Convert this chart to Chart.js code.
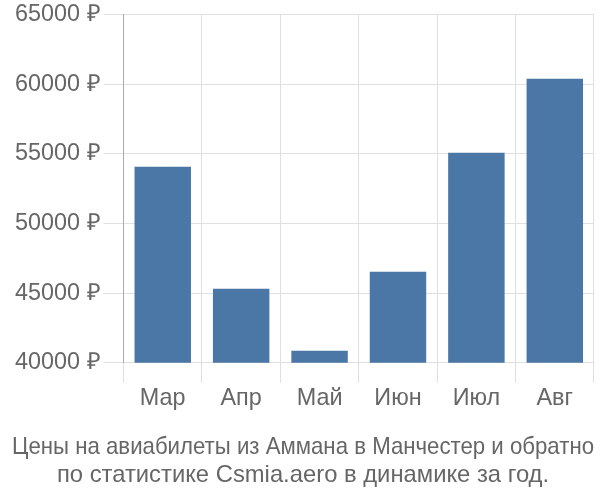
<!DOCTYPE html>
<html><head><meta charset="utf-8">
<script src="https://cdn.jsdelivr.net/npm/chart.js@4/dist/chart.umd.min.js"></script>
<style>html,body{margin:0;padding:0;background:#fff}#w{width:600px;height:500px}</style>
</head><body><div id="w"><canvas id="c" width="600" height="500"></canvas></div>
<script>
const categories = ["Мар", "Апр", "Май", "Июн", "Июл", "Авг"];
const prices = [54080, 45320, 40860, 46540, 55090, 60400];
const titleLines = ["Цены на авиабилеты из Аммана в Манчестер и обратно", "по статистике Csmia.aero в динамике за год."];
const yMin = 40000, yMax = 65000, yStep = 5000;

Chart.defaults.font.family = "'Liberation Sans', Arial, sans-serif";
Chart.defaults.color = "#666";
new Chart(document.getElementById('c'), {
  type: 'bar',
  data: { labels: categories, datasets: [{ data: prices, backgroundColor: '#4b77a6', borderWidth: 0 }] },
  options: {
    responsive: false, animation: false,
    layout: { padding: { top: 0, right: 6, left: 12, bottom: 0 } },
    plugins: {
      legend: { display: false }, tooltip: { enabled: false },
      title: { display: true, position: 'bottom', text: titleLines, color: '#666',
        font: { size: 23.8, weight: 'normal' }, lineHeight: 1.1, padding: { top: 18, bottom: 10 } }
    },
    scales: {
      y: { min: yMin, max: yMax, ticks: { stepSize: yStep, font: { size: 23.4, lineHeight: 1.0 }, color: '#666', padding: 3,
            callback: v => v + ' ₽' },
           grid: { color: '#e0e0e0', tickLength: 20 }, border: { color: '#aaa' } },
      x: { ticks: { font: { size: 23.4 }, color: '#666', padding: 2 },
           grid: { color: '#e0e0e0', tickLength: 20 }, border: { display: false } }
    }
  }
});
</script></body></html>
